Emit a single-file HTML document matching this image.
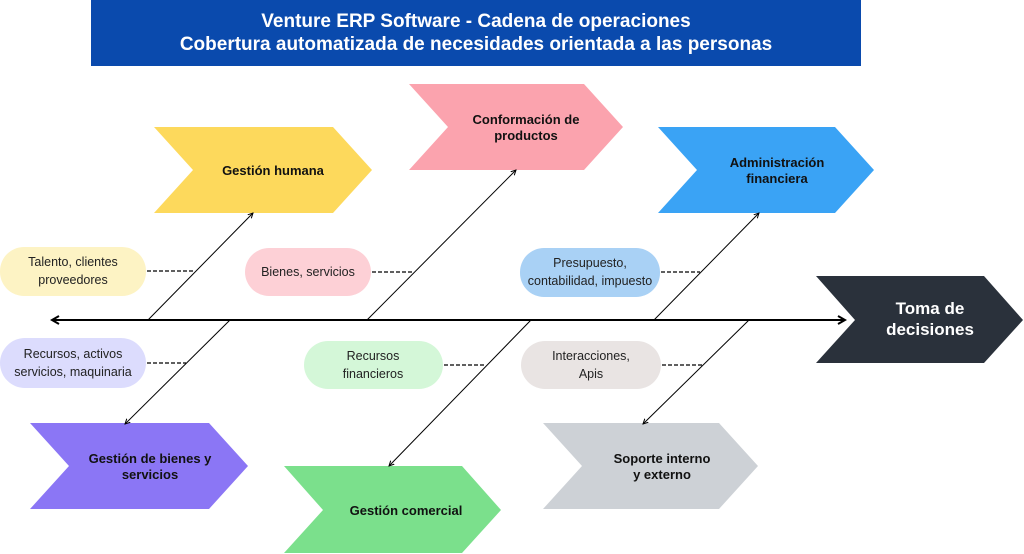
<!DOCTYPE html>
<html><head><meta charset="utf-8"><style>
body{margin:0;background:#fff;width:1024px;height:554px;overflow:hidden}
svg{display:block;font-family:"Liberation Sans",sans-serif}
</style></head><body>
<svg width="1024" height="554" viewBox="0 0 1024 554">
<defs><marker id="a" markerWidth="6" markerHeight="6" refX="5" refY="3" orient="auto"><path d="M0,0.5 L5,3 L0,5.5" fill="none" stroke="#000" stroke-width="1"/></marker>
<marker id="b" markerWidth="10" markerHeight="10" refX="8" refY="5" orient="auto-start-reverse" markerUnits="userSpaceOnUse"><path d="M1,1 L8,5 L1,9" fill="none" stroke="#000" stroke-width="2"/></marker></defs>
<rect x="91" y="0" width="770" height="66" fill="#0a4aad"/>
<text x="476" y="27" fill="#fff" font-size="19" font-weight="bold" text-anchor="middle">Venture ERP Software - Cadena de operaciones</text>
<text x="476" y="50" fill="#fff" font-size="19" font-weight="bold" text-anchor="middle">Cobertura automatizada de necesidades orientada a las personas</text>
<g font-size="13" font-weight="bold" text-anchor="middle" fill="#111">
<polygon points="154,127 333,127 372,170 333,213 154,213 193,170" fill="#fdd95c"/>
<text x="273" y="175">Gestión humana</text>
<polygon points="409,84 584,84 623,127 584,170 409,170 448,127" fill="#fba3ae"/>
<text x="526" y="124">Conformación de</text><text x="526" y="140">productos</text>
<polygon points="658,127 835,127 874,170 835,213 658,213 697,170" fill="#3aa3f5"/>
<text x="777" y="167">Administración</text><text x="777" y="183">financiera</text>
<polygon points="30,423 209,423 248,466 209,509 30,509 69,466" fill="#8b76f5"/>
<text x="150" y="463">Gestión de bienes y</text><text x="150" y="479">servicios</text>
<polygon points="284,466 462,466 501,510 462,553 284,553 323,510" fill="#7be08c"/>
<text x="406" y="515">Gestión comercial</text>
<polygon points="543,423 719,423 758,466 719,509 543,509 582,466" fill="#cdd1d6"/>
<text x="662" y="463">Soporte interno</text><text x="662" y="479">y externo</text>
</g>
<polygon points="816,276 984,276 1023,320 984,363 816,363 855,320" fill="#2a313b"/>
<text x="930" y="314" fill="#fff" font-size="17" font-weight="bold" text-anchor="middle">Toma de</text>
<text x="930" y="335" fill="#fff" font-size="17" font-weight="bold" text-anchor="middle">decisiones</text>
<line x1="52" y1="320" x2="845" y2="320" stroke="#000" stroke-width="2" marker-end="url(#b)" marker-start="url(#b)"/>
<g stroke="#000" stroke-width="1" marker-end="url(#a)">
<line x1="148" y1="320" x2="253" y2="213"/><line x1="367" y1="320" x2="516" y2="170"/><line x1="654" y1="320" x2="759" y2="213"/>
<line x1="230" y1="320" x2="125" y2="424"/><line x1="531" y1="320" x2="389" y2="466"/><line x1="749" y1="320" x2="643" y2="424"/>
</g>
<g stroke="#000" stroke-width="1.3" stroke-dasharray="4,2">
<line x1="147" y1="271" x2="195" y2="271"/><line x1="372" y1="272" x2="414" y2="272"/><line x1="661" y1="272" x2="700" y2="272"/>
<line x1="147" y1="363" x2="186" y2="363"/><line x1="444" y1="365" x2="485" y2="365"/><line x1="662" y1="365" x2="702" y2="365"/>
</g>
<g font-size="12.5" text-anchor="middle" fill="#222">
<rect x="0" y="247" width="146" height="49" rx="24" fill="#fdf3c4"/>
<text x="73" y="266">Talento, clientes</text><text x="73" y="284">proveedores</text>
<rect x="245" y="248" width="126" height="48" rx="24" fill="#fdd0d6"/>
<text x="308" y="276">Bienes, servicios</text>
<rect x="520" y="248" width="140" height="49" rx="24" fill="#a9d1f5"/>
<text x="590" y="267">Presupuesto,</text><text x="590" y="285">contabilidad, impuesto</text>
<rect x="0" y="338" width="146" height="50" rx="25" fill="#dcdcfd"/>
<text x="73" y="358">Recursos, activos</text><text x="73" y="376">servicios, maquinaria</text>
<rect x="304" y="341" width="139" height="48" rx="24" fill="#d4f7d8"/>
<text x="373" y="360">Recursos</text><text x="373" y="378">financieros</text>
<rect x="521" y="341" width="140" height="48" rx="24" fill="#e9e4e3"/>
<text x="591" y="360">Interacciones,</text><text x="591" y="378">Apis</text>
</g>
</svg>
</body></html>
